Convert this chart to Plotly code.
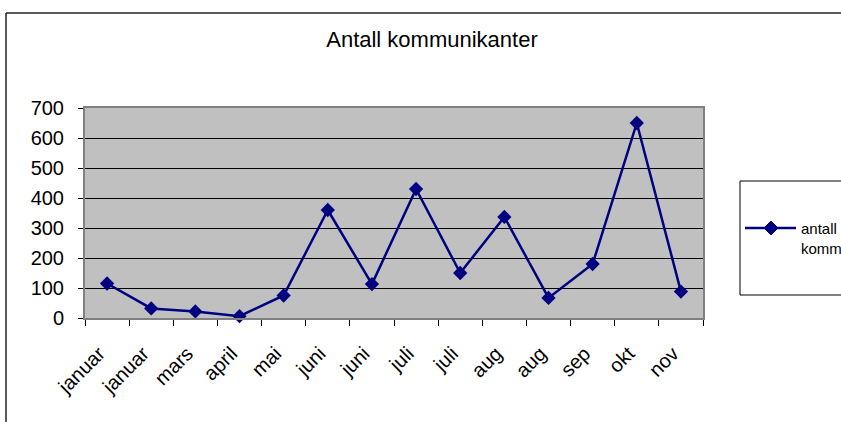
import plotly.graph_objects as go

# Monthly counts of communicants
months = ["januar", "januar", "mars", "april", "mai", "juni", "juni",
          "juli", "juli", "aug", "aug", "sep", "okt", "nov"]
counts = [115, 32, 22, 6, 75, 360, 113, 430, 150, 337, 67, 180, 650, 88]
series_name = "antall kommunikanter"
title_text = "Antall kommunikanter"

FONT = "Arial, 'Liberation Sans', sans-serif"
NAVY = "#000080"

# Plot-area geometry in pixels (841 x 422 canvas)
W_FIG, H_FIG = 841, 422
L, R, T, B = 85, 703, 108, 318
PW, PH = R - L, B - T


def px(x):
    return (x - L) / PW


def py(y):
    return (B - y) / PH


x_idx = list(range(len(months)))

fig = go.Figure()
fig.add_trace(go.Scatter(
    x=x_idx, y=counts, mode="lines+markers", name=series_name,
    line=dict(color=NAVY, width=2.5),
    marker=dict(symbol="diamond", size=11, color=NAVY),
    showlegend=False, cliponaxis=False,
))

shapes = [
    # outer chart frame (runs off the right and bottom edges)
    dict(type="line", xref="paper", yref="paper", x0=px(6), x1=px(W_FIG + 10),
         y0=py(13), y1=py(13), line=dict(color="#222222", width=1.5)),
    dict(type="line", xref="paper", yref="paper", x0=px(6), x1=px(6),
         y0=py(13), y1=py(H_FIG + 10), line=dict(color="#222222", width=1.5)),
    # legend box
    dict(type="rect", xref="paper", yref="paper", x0=px(740), x1=px(W_FIG + 20),
         y0=py(295), y1=py(181), line=dict(color="black", width=1),
         fillcolor="white", layer="above"),
    # legend line sample
    dict(type="line", xref="paper", yref="paper", x0=px(745), x1=px(796),
         y0=py(228), y1=py(228), line=dict(color=NAVY, width=2.5), layer="above"),
    # legend diamond
    dict(type="path", xref="paper", yref="paper",
         path=f"M {px(764)},{py(228)} L {px(771)},{py(221)} L {px(778)},{py(228)} "
              f"L {px(771)},{py(235)} Z",
         fillcolor=NAVY, line=dict(color=NAVY, width=1), layer="above"),
]

annotations = [
    dict(text="antall<br>kommunikanter", xref="paper", yref="paper",
         x=px(799), y=py(238), xanchor="left", yanchor="middle", align="left",
         showarrow=False, font=dict(family=FONT, size=15, color="black")),
]

fig.update_layout(
    width=W_FIG, height=H_FIG,
    margin=dict(l=L, r=W_FIG - R, t=T, b=H_FIG - B, autoexpand=False),
    paper_bgcolor="white", plot_bgcolor="#C0C0C0",
    font=dict(family=FONT, color="black"),
    title=dict(text=title_text, x=px(432), xref="paper", xanchor="center",
               y=1 - 39 / H_FIG, yref="container", yanchor="middle",
               font=dict(family=FONT, size=22, color="black")),
    shapes=shapes, annotations=annotations,
    xaxis=dict(
        tickmode="array", tickvals=x_idx, ticktext=months,
        range=[-0.5, len(months) - 0.5], tickangle=-45,
        showgrid=False, zeroline=False,
        showline=True, linecolor="#808080", linewidth=2, mirror=True,
        ticks="", ticklabelstandoff=14, ticklabelshift=-8,
        minor=dict(tick0=-0.5, dtick=1, ticks="outside", ticklen=6,
                   tickcolor="black", tickwidth=1, showgrid=False),
        tickfont=dict(family=FONT, size=20, color="black"),
    ),
    yaxis=dict(
        range=[0, 700], dtick=100, tick0=0,
        showgrid=True, gridcolor="black", gridwidth=1, zeroline=False,
        showline=True, linecolor="#808080", linewidth=2, mirror=True,
        ticks="outside", ticklen=5, tickcolor="black", tickwidth=1,
        ticklabelstandoff=10,
        tickfont=dict(family=FONT, size=20, color="black"),
    ),
)

fig.write_html("out.html")
